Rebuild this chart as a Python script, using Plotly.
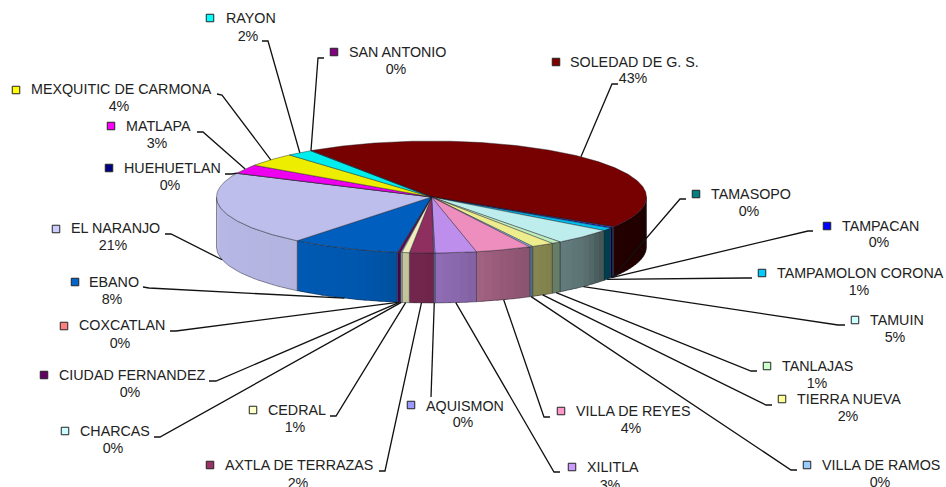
import math
import numpy as np
import plotly.graph_objects as go

# ---- data ----
names = ["SOLEDAD DE G. S.", "TAMASOPO", "TAMPACAN", "TAMPAMOLON CORONA", "TAMUIN", "TANLAJAS",
         "TIERRA NUEVA", "VILLA DE RAMOS", "VILLA DE REYES", "XILITLA", "AQUISMON", "AXTLA DE TERRAZAS",
         "CEDRAL", "CHARCAS", "CIUDAD FERNANDEZ", "COXCATLAN", "EBANO", "EL NARANJO", "HUEHUETLAN",
         "MATLAPA", "MEXQUITIC DE CARMONA", "RAYON", "SAN ANTONIO"]
values = [43.4, 0.15, 0.3, 0.85, 4.6, 0.7, 1.7, 0.25, 4.2, 3.1, 0.1, 1.8,
          0.55, 0.1, 0.2, 0.05, 8.2, 21.25, 0.05, 2.6, 3.9, 2.0, 0.05]
colors = ["#800000", "#008080", "#0000FF", "#00CCFF", "#CCFFFF", "#CCFFCC", "#FFFF99", "#99CCFF",
          "#FF99CC", "#CC99FF", "#9999FF", "#993366", "#FFFFCC", "#CCFFFF", "#660066", "#FF8080",
          "#0066CC", "#CCCCFF", "#000080", "#FF00FF", "#FFFF00", "#00FFFF", "#800080"]

# ---- layout (pixels): marker x,y | text left x,y | pct centre x,y | leader end | leader knee ----
place = {
    "SOLEDAD DE G. S.": (556, 62, 570, 63, 633, 79, (618, 84), (612, 84)),
    "TAMASOPO": (696, 194, 711, 195, 749, 212, (686, 199), (680, 199)),
    "TAMPACAN": (827, 226, 842, 227, 879, 243, (813, 231), (808, 231)),
    "TAMPAMOLON CORONA": (762, 273, 777, 274, 859, 291, (752, 278), (745, 278)),
    "TAMUIN": (855, 320, 870, 321, 895, 338, (845, 325), (838, 325)),
    "TANLAJAS": (767, 366, 782, 367, 817, 384, (757, 371), (751, 371)),
    "TIERRA NUEVA": (782, 399, 797, 400, 848, 417, (772, 405), (766, 405)),
    "VILLA DE RAMOS": (807, 465, 822, 466, 880, 483, (797, 470), (791, 470)),
    "VILLA DE REYES": (561, 411, 576, 412, 631, 429, (550, 417), (544, 417)),
    "XILITLA": (572, 467, 587, 468, 610, 486, (560, 472), (554, 472)),
    "AQUISMON": (411, 405, 426, 407, 463, 423, (431, 397), (431, 397)),
    "AXTLA DE TERRAZAS": (210, 465, 225, 466, 298, 484, (379, 471), (385, 471)),
    "CEDRAL": (253, 410, 268, 411, 295, 428, (330, 416), (336, 416)),
    "CHARCAS": (65, 431, 80, 432, 113, 449, (154, 437), (160, 437)),
    "CIUDAD FERNANDEZ": (44, 375, 59, 376, 130, 393, (209, 381), (216, 381)),
    "COXCATLAN": (64, 326, 79, 326, 120, 344, (170, 331), (176, 331)),
    "EBANO": (75, 282, 89, 283, 112, 300, (143, 287), (149, 288)),
    "EL NARANJO": (56, 229, 71, 229, 113, 246, (165, 234), (171, 234)),
    "HUEHUETLAN": (109, 168, 124, 169, 170, 186, (225, 174), (232, 174)),
    "MATLAPA": (111, 126, 126, 127, 157, 144, (197, 132), (203, 132)),
    "MEXQUITIC DE CARMONA": (16, 90, 31, 90, 119, 107, (217, 94), (222, 95)),
    "RAYON": (210, 18, 226, 19, 248, 37, (262, 41), (268, 41)),
    "SAN ANTONIO": (334, 52, 349, 53, 396, 70, (324, 58), (318, 58)),
}

CX, CY, A, B, DEPTH = 431.5, 197, 215, 56, 50
START = -34.0
TOP_SHADE = 0.93
SHADE_ANG = [90, 125, 135, 150, 165, 180, 200, 220, 260, 270]
SHADE_VAL = [0.22, 0.30, 0.45, 0.52, 0.62, 0.72, 0.85, 0.88, 0.90, 0.90]


def ell(theta):
    t = np.radians(theta)
    return CX + A * np.sin(t), CY - B * np.cos(t)


def rgb(hexc, f):
    r, g, b = int(hexc[1:3], 16), int(hexc[3:5], 16), int(hexc[5:7], 16)
    return f"rgb({r*f:.0f},{g*f:.0f},{b*f:.0f})"


def shade(theta):
    return float(np.interp(theta, SHADE_ANG, SHADE_VAL))


fig = go.Figure()
total = sum(values)
edges = [START]
for v in values:
    edges.append(edges[-1] + v / total * 360)

EDGE = "rgba(30,30,40,0.55)"

# sides, front half only, with a horizontal shading
for i, c in enumerate(colors):
    for off in (0, 360):
        a0, a1 = max(edges[i] + off, 90), min(edges[i + 1] + off, 270)
        if a1 <= a0:
            continue
        n = max(1, int((a1 - a0) / 2))
        cuts = np.linspace(a0, a1, n + 1)
        for u, w in zip(cuts[:-1], cuts[1:]):
            # each strip runs a little under the next one so that no seam shows
            w2 = min(w + 1.0, a1)
            x, y = ell(np.linspace(u, w2, 4))
            col = rgb(c, shade((u + w) / 2))
            fig.add_trace(go.Scatter(x=np.r_[x, x[::-1], x[0]], y=np.r_[y, y[::-1] + DEPTH, y[0]],
                                     mode="lines", fill="toself", fillcolor=col,
                                     line=dict(width=0), hoverinfo="skip"))
        th = np.linspace(a0, a1, 40)
        x, y = ell(th)
        fig.add_trace(go.Scatter(x=np.r_[x, x[::-1], x[0]], y=np.r_[y, y[::-1] + DEPTH, y[0]],
                                 mode="lines", line=dict(color=EDGE, width=0.8), hoverinfo="skip"))

# top surface
for i, c in enumerate(colors):
    th = np.linspace(edges[i], edges[i + 1], max(3, int((edges[i + 1] - edges[i]) * 2)))
    x, y = ell(th)
    fig.add_trace(go.Scatter(x=np.r_[CX, x, CX], y=np.r_[CY, y, CY], mode="lines", fill="toself",
                             fillcolor=rgb(c, TOP_SHADE), line=dict(color=EDGE, width=0.8),
                             hoverinfo="skip"))

# leaders, from the middle of each slice
for i, nm in enumerate(names):
    mid = (edges[i] + edges[i + 1]) / 2
    px, py = ell(mid)
    if math.cos(math.radians(mid)) < 0:
        py += DEPTH
    p = place[nm]
    fig.add_trace(go.Scatter(x=[p[6][0], p[7][0], float(px)], y=[p[6][1], p[7][1], float(py)], mode="lines",
                             line=dict(color="#111111", width=1.3), hoverinfo="skip"))

FONT = dict(family="Liberation Sans, Arial, sans-serif", size=14.3, color="#222222")
fig.add_trace(go.Scatter(x=[place[n][0] for n in names], y=[place[n][1] for n in names], mode="markers",
                         marker=dict(symbol="square", size=7.5, color=colors,
                                     line=dict(color="#222222", width=1)), hoverinfo="skip"))
fig.add_trace(go.Scatter(x=[place[n][2] for n in names], y=[place[n][3] for n in names], mode="text",
                         text=names, textposition="middle right", textfont=FONT, hoverinfo="skip"))
pct = [f"{math.floor(v / total * 100 + 0.5)}%" for v in values]
fig.add_trace(go.Scatter(x=[place[n][4] for n in names], y=[place[n][5] for n in names], mode="text",
                         text=pct, textposition="middle center", textfont=FONT, hoverinfo="skip"))

fig.update_layout(width=946, height=487, margin=dict(l=0, r=0, t=0, b=0), showlegend=False,
                  paper_bgcolor="white", plot_bgcolor="white",
                  xaxis=dict(range=[0, 946], visible=False, fixedrange=True),
                  yaxis=dict(range=[487, 0], visible=False, fixedrange=True))
fig.write_html("out.html", config=dict(displayModeBar=False),
               post_script="document.body.style.margin='0';document.body.style.overflow='hidden';")
